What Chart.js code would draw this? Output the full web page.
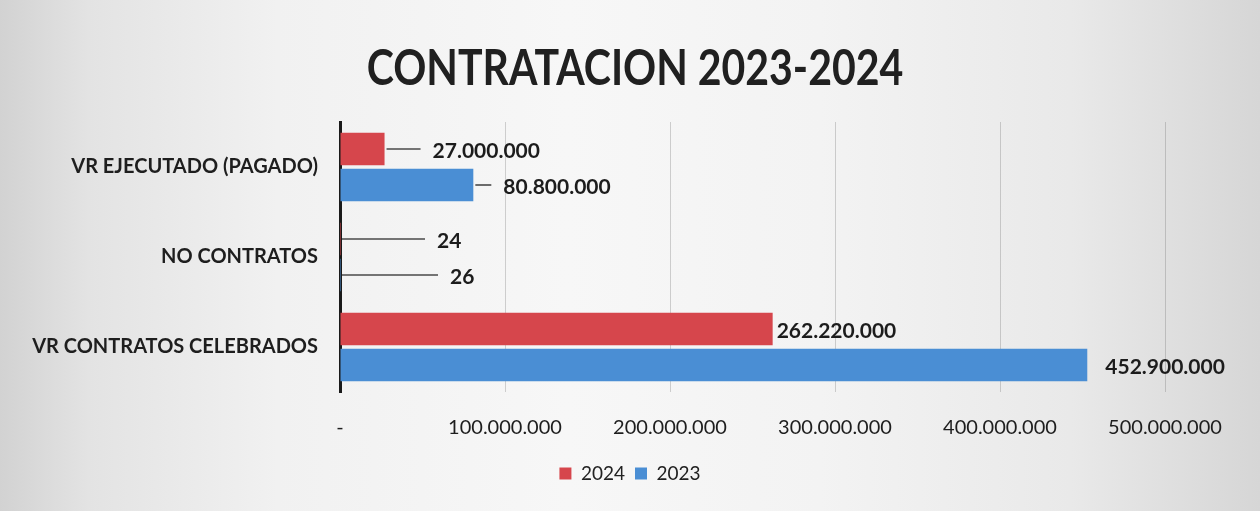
<!DOCTYPE html>
<html>
<head>
<meta charset="utf-8">
<script src="https://cdn.jsdelivr.net/npm/chart.js@4"></script>
<style>
  html, body { margin: 0; padding: 0; }
  body {
    width: 1260px; height: 511px; overflow: hidden;
    background: linear-gradient(90deg, #d2d2d2 0%, #e3e3e3 7%, #f1f1f1 22%, #f7f7f7 45%, #f3f3f3 65%, #e9e9e9 85%, #d6d6d6 100%);
  }
  #wrap { position: relative; width: 1260px; height: 511px; }
</style>
</head>
<body>
<div id="wrap"><canvas id="c" width="1260" height="511"></canvas></div>
<script>
// ---- data ----
const categories = ['VR EJECUTADO (PAGADO)', 'NO CONTRATOS', 'VR CONTRATOS CELEBRADOS'];
const seriesNames = ['2024', '2023'];
const values2024 = [27000000, 24, 262220000];
const values2023 = [80800000, 26, 452900000];
const tickLabels = ['-', '100.000.000', '200.000.000', '300.000.000', '400.000.000', '500.000.000'];
const chartTitle = 'CONTRATACION 2023-2024';

// ---- styles ----
const colors = ['#d6464c', '#4a8ed4'];
const gap2024 = [48, 97, 4];
const gap2023 = [30, 110, 18];
const FONT = "Lato, 'Open Sans', sans-serif";

function fmt(v) {
  return String(v).replace(/\B(?=(\d{3})+(?!\d))/g, '.');
}

// title drawn condensed (Calibri-like proportions)
const condensedTitle = {
  id: 'condensedTitle',
  afterDraw(chart) {
    const ctx = chart.ctx;
    ctx.save();
    ctx.font = "bold 50px " + FONT;
    ctx.fillStyle = '#202020';
    ctx.textAlign = 'center';
    ctx.textBaseline = 'middle';
    ctx.translate(635, 69);
    ctx.scale(0.82, 1);
    ctx.fillText(chartTitle, 0, 0);
    ctx.restore();
  }
};

const leaderLabels = {
  id: 'leaderLabels',
  afterDatasetsDraw(chart) {
    const ctx = chart.ctx;
    ctx.save();
    chart.data.datasets.forEach((ds, di) => {
      const meta = chart.getDatasetMeta(di);
      const gaps = di === 0 ? gap2024 : gap2023;
      meta.data.forEach((bar, i) => {
        const x0 = bar.x, y = bar.y, g = gaps[i];
        const tx = x0 + g;
        if (g > 20) {
          ctx.beginPath();
          ctx.strokeStyle = '#4a4a4a';
          ctx.lineWidth = 1.6;
          ctx.moveTo(x0 + 2, y);
          ctx.lineTo(tx - 12, y);
          ctx.stroke();
        }
        ctx.fillStyle = '#1c1c1c';
        ctx.font = "bold 21px " + FONT;
        ctx.textAlign = 'left';
        ctx.textBaseline = 'middle';
        ctx.fillText(fmt(ds.data[i]), tx, y + 2);
      });
    });
    ctx.restore();
  }
};

new Chart(document.getElementById('c'), {
  type: 'bar',
  data: {
    labels: categories,
    datasets: [
      { label: seriesNames[0], data: values2024, backgroundColor: colors[0] },
      { label: seriesNames[1], data: values2023, backgroundColor: colors[1] }
    ]
  },
  options: {
    indexAxis: 'y',
    responsive: false,
    animation: false,
    categoryPercentage: 0.8,
    barPercentage: 0.9,
    layout: { padding: { top: 122, left: 0, right: 0, bottom: 18 } },
    scales: {
      x: {
        min: 0, max: 500000000,
        ticks: {
          stepSize: 100000000,
          padding: 24,
          color: '#1e1e1e',
          font: { family: FONT, size: 20 },
          callback: (v, i) => tickLabels[i]
        },
        grid: { color: 'rgba(110,110,110,0.3)', lineWidth: 1, drawTicks: false },
        border: { display: false },
        afterFit(s) { s.height = 62; }
      },
      y: {
        ticks: {
          padding: 22,
          color: '#1e1e1e',
          font: { family: FONT, size: 20, weight: 'bold' }
        },
        grid: { display: false, drawTicks: false },
        border: { display: true, color: '#1a1a1a', width: 3 },
        afterFit(s) { s.width = 340; }
      },
      yRight: {
        type: 'linear',
        axis: 'y',
        position: 'right',
        ticks: { display: false },
        grid: { display: false, drawTicks: false },
        border: { display: false },
        afterFit(s) { s.width = 95; }
      }
    },
    plugins: {
      title: { display: false },
      legend: {
        position: 'bottom',
        labels: {
          color: '#222',
          font: { family: FONT, size: 19 },
          boxWidth: 12, boxHeight: 12,
          padding: 10
        }
      },
      tooltip: { enabled: false }
    }
  },
  plugins: [leaderLabels, condensedTitle]
});
</script>
</body>
</html>
